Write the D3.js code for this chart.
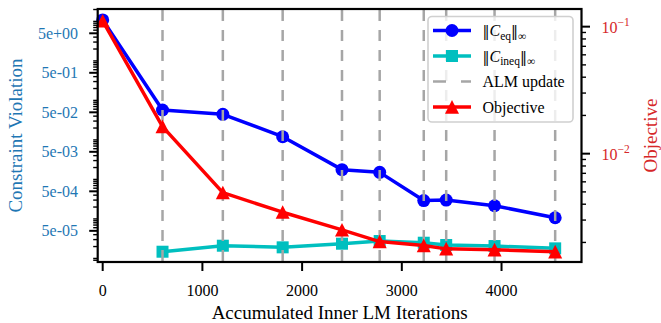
<!DOCTYPE html>
<html><head><meta charset="utf-8">
<script src="https://cdn.jsdelivr.net/npm/d3@7"></script>
<style>body{margin:0;background:#fff}svg{display:block}text{font-family:"Liberation Serif","Times New Roman",serif}</style>
</head><body><svg id="c" width="661" height="323"></svg>
<script>
const iterations = [0, 600, 1205, 1805, 2400, 2778, 3220, 3445, 3930, 4538];
const ceq = [10.9, 0.0572, 0.0445, 0.01205, 0.00177, 0.00151, 0.000292, 0.000301, 0.000216, 0.000107];
const cineq = [null, 1.48e-5, 2.10e-5, 1.91e-5, 2.36e-5, 2.76e-5, 2.50e-5, 2.19e-5, 2.06e-5, 1.80e-5];
const objective = [0.111, 0.01633, 0.00493, 0.00346, 0.00251, 0.00203, 0.00189, 0.00178, 0.00175, 0.00169];
const almUpdates = [600, 1205, 1805, 2400, 2778, 3220, 3445, 3930, 4538];
const xTicks = [0, 1000, 2000, 3000, 4000];
const leftTicks = [5, 0.5, 0.05, 0.005, 0.0005, 0.00005];
const leftTickLabels = ["5e+00", "5e-01", "5e-02", "5e-03", "5e-04", "5e-05"];
const rightTicks = [0.1, 0.01];
const rightTickExp = ["\u22121", "\u22122"];
const legendLabels = ["Ceq", "Cineq", "ALM update", "Objective"];

const L = 97.7, R = 581.5, T = 9, B = 262;
const svg = d3.select("#c");
const x = d3.scaleLinear().domain([-50, 4802]).range([L, R]);
const yL = d3.scaleLog().domain([Math.pow(10, -5.09), Math.pow(10, 1.314)]).range([B, T]);
const yR = d3.scaleLog().domain([Math.pow(10, -2.853), Math.pow(10, -0.861)]).range([B, T]);

const blue = "#0000ff", cyan = "#00bfbf", red = "#ff0000", gray = "#a6a6a6";
const lblBlue = "#1f77b4", lblRed = "#d62728";

function minorTicks(scale) {
  const [a, b] = scale.domain();
  const out = [];
  for (let k = Math.floor(Math.log10(a)) - 1; k <= Math.ceil(Math.log10(b)); k++) {
    for (let n = 1; n <= 9; n++) {
      const v = n * Math.pow(10, k);
      if (v >= a && v <= b) out.push(v);
    }
  }
  return out;
}

const g = svg.append("g");

const ptsCeq = iterations.map((d, i) => [d, ceq[i]]);
const ptsCineq = iterations.map((d, i) => [d, cineq[i]]).filter(p => p[1] != null);
const ptsObj = iterations.map((d, i) => [d, objective[i]]);

const lineL = d3.line().x(d => x(d[0])).y(d => yL(d[1]));
const lineR = d3.line().x(d => x(d[0])).y(d => yR(d[1]));

g.append("path").attr("d", lineL(ptsCeq)).attr("fill", "none").attr("stroke", blue).attr("stroke-width", 3.5).attr("stroke-linejoin", "round");
g.selectAll(".c1").data(ptsCeq).join("circle").attr("cx", d => x(d[0])).attr("cy", d => yL(d[1])).attr("r", 6.5).attr("fill", blue);

g.append("path").attr("d", lineL(ptsCineq)).attr("fill", "none").attr("stroke", cyan).attr("stroke-width", 3.5).attr("stroke-linejoin", "round");
g.selectAll(".s1").data(ptsCineq).join("rect").attr("x", d => x(d[0]) - 6).attr("y", d => yL(d[1]) - 6).attr("width", 12).attr("height", 12).attr("fill", cyan);

g.selectAll(".v").data(almUpdates).join("line")
  .attr("x1", d => x(d)).attr("x2", d => x(d)).attr("y1", T).attr("y2", B)
  .attr("stroke", gray).attr("stroke-width", 2.5).attr("stroke-dasharray", "11,9").attr("stroke-dashoffset", -1);

function tri(cx, cy, s) {
  return `M${cx},${cy - s}L${cx + s},${cy + s * 0.95}L${cx - s},${cy + s * 0.95}Z`;
}
g.append("path").attr("d", lineR(ptsObj)).attr("fill", "none").attr("stroke", red).attr("stroke-width", 3.5).attr("stroke-linejoin", "round");
g.selectAll(".t1").data(ptsObj).join("path").attr("d", d => tri(x(d[0]), yR(d[1]), 7)).attr("fill", red);

const ax = svg.append("g");
ax.append("rect").attr("x", L).attr("y", T).attr("width", R - L).attr("height", B - T)
  .attr("fill", "none").attr("stroke", "#000").attr("stroke-width", 2.2);

xTicks.forEach(v => {
  ax.append("line").attr("x1", x(v)).attr("x2", x(v)).attr("y1", B).attr("y2", B + 9).attr("stroke", "#000").attr("stroke-width", 2);
  ax.append("text").attr("x", x(v)).attr("y", 296).attr("text-anchor", "middle").attr("font-size", 16).attr("fill", "#000").text(d3.format("d")(v));
});

minorTicks(yL).filter(v => !leftTicks.some(t => Math.abs(t - v) / t < 1e-6)).forEach(v => {
  ax.append("line").attr("x1", L - 4.5).attr("x2", L).attr("y1", yL(v)).attr("y2", yL(v)).attr("stroke", "#000").attr("stroke-width", 1.4);
});
leftTicks.forEach((v, i) => {
  ax.append("line").attr("x1", L - 8.5).attr("x2", L).attr("y1", yL(v)).attr("y2", yL(v)).attr("stroke", "#000").attr("stroke-width", 2);
  ax.append("text").attr("x", 78).attr("y", yL(v) + 5.5).attr("text-anchor", "end").attr("font-size", 16).attr("fill", lblBlue).text(leftTickLabels[i]);
});

minorTicks(yR).filter(v => !rightTicks.some(t => Math.abs(t - v) / t < 1e-6)).forEach(v => {
  ax.append("line").attr("x1", R).attr("x2", R + 4.5).attr("y1", yR(v)).attr("y2", yR(v)).attr("stroke", "#000").attr("stroke-width", 1.4);
});
rightTicks.forEach((v, i) => {
  ax.append("line").attr("x1", R).attr("x2", R + 8.5).attr("y1", yR(v)).attr("y2", yR(v)).attr("stroke", "#000").attr("stroke-width", 2);
  const t = ax.append("text").attr("x", 601.5).attr("y", yR(v) + 6).attr("font-size", 16).attr("fill", lblRed);
  t.append("tspan").text("10");
  t.append("tspan").attr("dy", -7).attr("font-size", 11.5).text(rightTickExp[i]);
});

svg.append("text").attr("x", (L + R) / 2).attr("y", 318.5).attr("text-anchor", "middle").attr("font-size", 19).attr("fill", "#000").text("Accumulated Inner LM Iterations");
svg.append("text").attr("transform", `translate(22,${(T + B) / 2}) rotate(-90)`).attr("text-anchor", "middle").attr("font-size", 19).attr("fill", lblBlue).text("Constraint Violation");
svg.append("text").attr("transform", `translate(657,${(T + B) / 2}) rotate(-90)`).attr("text-anchor", "middle").attr("font-size", 19).attr("fill", lblRed).text("Objective");

const lg = svg.append("g");
lg.append("rect").attr("x", 428).attr("y", 16.5).attr("width", 145).attr("height", 105.5).attr("rx", 4)
  .attr("fill", "#fff").attr("fill-opacity", 0.8).attr("stroke", "#d0d0d0").attr("stroke-width", 1.6);
const rows = [30.5, 56, 81.5, 107];
const hx1 = 433, hx2 = 471, hm = 452, tx = 482.5;
lg.append("line").attr("x1", hx1).attr("x2", hx2).attr("y1", rows[0]).attr("y2", rows[0]).attr("stroke", blue).attr("stroke-width", 3.5);
lg.append("circle").attr("cx", hm).attr("cy", rows[0]).attr("r", 6.5).attr("fill", blue);
lg.append("line").attr("x1", hx1).attr("x2", hx2).attr("y1", rows[1]).attr("y2", rows[1]).attr("stroke", cyan).attr("stroke-width", 3.5);
lg.append("rect").attr("x", hm - 6).attr("y", rows[1] - 6).attr("width", 12).attr("height", 12).attr("fill", cyan);
lg.append("line").attr("x1", hx1).attr("x2", hx2).attr("y1", rows[2]).attr("y2", rows[2]).attr("stroke", gray).attr("stroke-width", 2.5).attr("stroke-dasharray", "13,15");
lg.append("line").attr("x1", hx1).attr("x2", hx2).attr("y1", rows[3]).attr("y2", rows[3]).attr("stroke", red).attr("stroke-width", 3.5);
lg.append("path").attr("d", tri(hm, rows[3], 7)).attr("fill", red);

function normLabel(y, sub) {
  const t = lg.append("text").attr("x", tx).attr("y", y + 5.5).attr("font-size", 16).attr("fill", "#000");
  t.append("tspan").attr("font-family", "DejaVu Serif").attr("font-size", 14).text("\u2016");
  t.append("tspan").attr("font-style", "italic").text("C");
  t.append("tspan").attr("dy", 3.5).attr("font-size", 11.5).text(sub);
  t.append("tspan").attr("dy", -3.5).attr("font-family", "DejaVu Serif").attr("font-size", 14).text("\u2016");
  t.append("tspan").attr("dy", 3.5).attr("font-size", 11.5).text("\u221e");
}
normLabel(rows[0], "eq");
normLabel(rows[1], "ineq");
lg.append("text").attr("x", tx).attr("y", rows[2] + 5.5).attr("font-size", 16).attr("fill", "#000").text(legendLabels[2]);
lg.append("text").attr("x", tx).attr("y", rows[3] + 5.5).attr("font-size", 16).attr("fill", "#000").text(legendLabels[3]);
</script></body></html>
